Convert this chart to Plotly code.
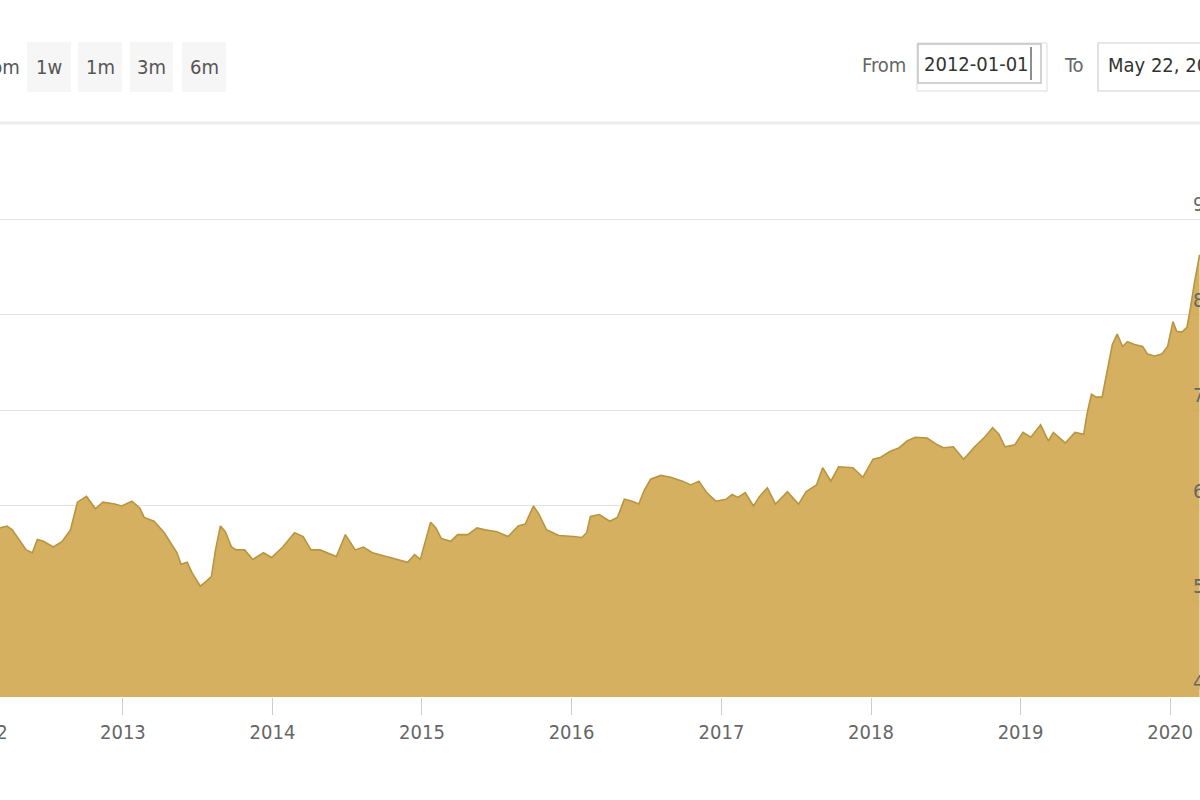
import plotly.graph_objects as go

# ---------------- data ----------------
dates = [
    "2012-02-27", "2012-03-07", "2012-03-24", "2012-04-06", "2012-05-10", "2012-05-25",
    "2012-06-06", "2012-06-21", "2012-07-15", "2012-08-06", "2012-08-26", "2012-09-12",
    "2012-10-04", "2012-10-26", "2012-11-13", "2012-12-12", "2012-12-29", "2013-01-23",
    "2013-02-11", "2013-02-22", "2013-03-18", "2013-04-12", "2013-05-13", "2013-05-23",
    "2013-06-07", "2013-06-19", "2013-07-09", "2013-07-23", "2013-08-05", "2013-08-15",
    "2013-08-27", "2013-09-08", "2013-09-23", "2013-10-05", "2013-10-25", "2013-11-14",
    "2013-12-10", "2013-12-30", "2014-01-26", "2014-02-24", "2014-03-17", "2014-04-05",
    "2014-04-27", "2014-06-06", "2014-06-28", "2014-07-22", "2014-08-11", "2014-09-02",
    "2014-10-06", "2014-11-02", "2014-11-27", "2014-12-14", "2014-12-28", "2015-01-22",
    "2015-02-04", "2015-02-17", "2015-03-12", "2015-03-29", "2015-04-23", "2015-05-15",
    "2015-06-04", "2015-07-03", "2015-07-30", "2015-08-24", "2015-09-10", "2015-09-30",
    "2015-10-14", "2015-11-01", "2015-12-01", "2016-01-06", "2016-01-26", "2016-02-07",
    "2016-02-16", "2016-03-09", "2016-04-03", "2016-04-22", "2016-05-09", "2016-05-28",
    "2016-06-13", "2016-06-27", "2016-07-12", "2016-08-06", "2016-08-30", "2016-09-28",
    "2016-10-18", "2016-11-07", "2016-11-26", "2016-12-18", "2017-01-12", "2017-01-27",
    "2017-02-10", "2017-02-28", "2017-03-20", "2017-04-04", "2017-04-23", "2017-05-13",
    "2017-06-11", "2017-07-08", "2017-07-27", "2017-08-21", "2017-09-05", "2017-09-25",
    "2017-10-14", "2017-11-18", "2017-12-12", "2018-01-06", "2018-01-25", "2018-02-16",
    "2018-03-11", "2018-03-30", "2018-04-19", "2018-05-18", "2018-06-12", "2018-06-27",
    "2018-07-21", "2018-08-15", "2018-09-11", "2018-10-05", "2018-10-25", "2018-11-09",
    "2018-11-24", "2018-12-18", "2019-01-07", "2019-01-26", "2019-02-19", "2019-03-10",
    "2019-03-22", "2019-04-20", "2019-05-14", "2019-06-04", "2019-06-13", "2019-06-23",
    "2019-07-05", "2019-07-19", "2019-08-01", "2019-08-13", "2019-08-25", "2019-09-07",
    "2019-09-19", "2019-10-06", "2019-10-26", "2019-11-07", "2019-11-24", "2019-12-12",
    "2019-12-26", "2020-01-08", "2020-01-17", "2020-01-30", "2020-02-11", "2020-02-18",
    "2020-03-01", "2020-03-13",
]
price_idr = [
    576000, 577000, 579000, 575000, 554000, 551000,
    565000, 563000, 557000, 563000, 575000, 604000,
    610000, 597000, 604000, 602000, 600000, 605000,
    598000, 588000, 584000, 572000, 551000, 539000,
    541000, 530000, 516000, 521000, 526000, 554000,
    579000, 573000, 557000, 554000, 554000, 544000,
    551000, 546000, 557000, 572000, 568000, 554000,
    554000, 547000, 570000, 554000, 557000, 551000,
    547000, 544000, 541000, 549000, 544000, 583000,
    577000, 566000, 563000, 570000, 570000, 577000,
    575000, 573000, 568000, 579000, 581000, 600000,
    591000, 575000, 569000, 568000, 567000, 572000,
    589000, 591000, 584000, 588000, 607000, 605000,
    602000, 617000, 628000, 632000, 630000, 626000,
    622000, 626000, 614000, 605000, 607000, 612000,
    609000, 614000, 600000, 610000, 619000, 602000,
    615000, 602000, 615000, 622000, 640000, 626000,
    641000, 640000, 630000, 649000, 651000, 657000,
    661000, 668000, 672000, 671000, 664000, 661000,
    662000, 649000, 662000, 672000, 682000, 675000,
    662000, 664000, 677000, 672000, 685000, 668000,
    677000, 666000, 677000, 675000, 698000, 717000,
    714000, 714000, 743000, 769000, 780000, 767000,
    772000, 769000, 767000, 759000, 757000, 759000,
    767000, 793000, 783000, 782000, 787000, 803000,
    835000, 863000,
]
y_tick_values = [400000, 500000, 600000, 700000, 800000, 900000]
y_tick_labels = ["400k", "500k", "600k", "700k", "800k", "900k"]
x_first_label = "2012"
range_buttons = ["1w", "1m", "3m", "6m"]
from_date = "2012-01-01"
to_date = "May 22, 2020"

# ---------------- layout helpers (pixel -> paper) ----------------
W, H = 1200, 800
PLOT_TOP, PLOT_BOTTOM = 122, 697
PH = PLOT_BOTTOM - PLOT_TOP
FONT = ("Liberation Sans Narrow, 'DejaVu Sans Condensed', 'Roboto Condensed', "
        "'Arial Narrow', sans-serif")
LABEL_SIZE = 20


def px(x):
    return x / W


def py(y):
    return (PLOT_BOTTOM - y) / PH


fig = go.Figure()
fig.add_trace(go.Scatter(
    x=dates, y=price_idr, mode="lines", fill="tozeroy",
    line=dict(color="#b8953f", width=1.6),
    fillcolor="rgba(210,170,85,0.93)",
    hoverinfo="x+y",
))

shapes = []
annotations = []

# top separator line
shapes.append(dict(type="line", xref="paper", yref="paper", x0=0, x1=1,
                   y0=py(123), y1=py(123), line=dict(color="#ececec", width=3)))

# zoom buttons
annotations.append(dict(text="Zoom", xref="paper", yref="paper", x=px(22), y=py(67),
                        xanchor="right", yanchor="middle", showarrow=False,
                        font=dict(family=FONT, size=LABEL_SIZE, color="#555555")))
btn_x = [(27, 71), (78, 122), (130, 173), (182, 226)]
for label, (x0, x1) in zip(range_buttons, btn_x):
    shapes.append(dict(type="rect", xref="paper", yref="paper", x0=px(x0), x1=px(x1),
                       y0=py(92), y1=py(42), fillcolor="#f6f6f6", line=dict(width=0),
                       layer="below"))
    annotations.append(dict(text=label, xref="paper", yref="paper", x=px((x0 + x1) / 2),
                            y=py(67), xanchor="center", yanchor="middle", showarrow=False,
                            font=dict(family=FONT, size=LABEL_SIZE, color="#555555")))

# From / To inputs
annotations.append(dict(text="From", xref="paper", yref="paper", x=px(884), y=py(65),
                        xanchor="center", yanchor="middle", showarrow=False,
                        font=dict(family=FONT, size=LABEL_SIZE, color="#666666")))
shapes.append(dict(type="rect", xref="paper", yref="paper", x0=px(917), x1=px(1047),
                   y0=py(91), y1=py(43), line=dict(color="#dddddd", width=1),
                   fillcolor="white", layer="below"))
shapes.append(dict(type="rect", xref="paper", yref="paper", x0=px(918), x1=px(1041),
                   y0=py(83), y1=py(44), line=dict(color="#c4c4c4", width=1.5)))
shapes.append(dict(type="line", xref="paper", yref="paper", x0=px(1031), x1=px(1031),
                   y0=py(80), y1=py(47), line=dict(color="#444444", width=1.2)))
annotations.append(dict(text=from_date, xref="paper", yref="paper", x=px(976), y=py(64),
                        xanchor="center", yanchor="middle", showarrow=False,
                        font=dict(family=FONT, size=20, color="#333333")))
annotations.append(dict(text="To", xref="paper", yref="paper", x=px(1074), y=py(65),
                        xanchor="center", yanchor="middle", showarrow=False,
                        font=dict(family=FONT, size=LABEL_SIZE, color="#666666")))
shapes.append(dict(type="rect", xref="paper", yref="paper", x0=px(1098), x1=px(1230),
                   y0=py(91), y1=py(43), line=dict(color="#d0d0d0", width=1.2),
                   fillcolor="white", layer="below"))
annotations.append(dict(text=to_date, xref="paper", yref="paper", x=px(1106), y=py(65),
                        xanchor="left", yanchor="middle", showarrow=False,
                        font=dict(family=FONT, size=20, color="#333333")))

# first year label, justified to the left edge
annotations.append(dict(text=x_first_label, xref="paper", yref="paper", x=px(10), y=py(732),
                        xanchor="right", yanchor="middle", showarrow=False,
                        font=dict(family=FONT, size=LABEL_SIZE, color="#666666")))

# y-axis labels (Highstock style: right edge, above each gridline)
for val, lab in zip(y_tick_values, y_tick_labels):
    annotations.append(dict(text=lab, xref="paper", yref="y", x=px(1191), y=val,
                            xanchor="left", yanchor="middle", yshift=15, showarrow=False,
                            font=dict(family=FONT, size=LABEL_SIZE, color="#666666")))

fig.update_layout(
    width=W, height=H,
    margin=dict(l=0, r=0, t=PLOT_TOP, b=H - PLOT_BOTTOM, pad=0, autoexpand=False),
    paper_bgcolor="white", plot_bgcolor="white",
    showlegend=False,
    shapes=shapes, annotations=annotations,
    xaxis=dict(
        type="date", range=["2012-03-07", "2020-03-14"],
        dtick="M12", tick0="2013-01-01", tickformat="%Y",
        ticks="outside", ticklen=17, tickcolor="#cccccc", tickwidth=1,
        showgrid=False, zeroline=False, showline=False, automargin=False,
        tickfont=dict(family=FONT, size=LABEL_SIZE, color="#666666"),
        ticklabelstandoff=0,
    ),
    yaxis=dict(
        range=[400000, 1002000], side="right",
        tickvals=y_tick_values, showticklabels=False, automargin=False,
        showgrid=True, gridcolor="#e3e3e3", gridwidth=1,
        zeroline=False, showline=False, ticks="",
    ),
)

fig.write_html(
    "out.html",
    config={"displayModeBar": False},
    post_script="document.body.style.margin='0';document.body.style.overflow='hidden';",
)
